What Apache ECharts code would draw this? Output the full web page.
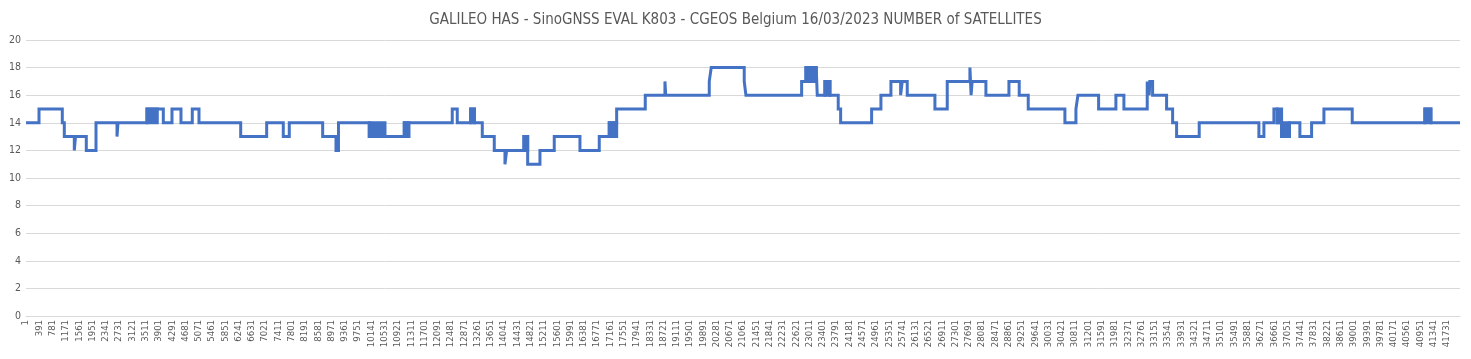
<!DOCTYPE html>
<html>
<head>
<meta charset="utf-8">
<script src="https://cdn.jsdelivr.net/npm/echarts@6/dist/echarts.min.js"></script>
<style>
html,body{margin:0;padding:0;background:#fff;}
#c{width:1471px;height:359px;}
</style>
</head>
<body>
<div id="c"></div>
<script>
// Number of epochs (category count) on the x axis
var totalEpochs = 42120;
// Epoch index where each constant-value run starts, and the satellite count of that run
var runStart = [
  0, 382, 1066, 1125, 1419, 1454, 1771, 2056, 2673, 2702,
  3554, 4033, 4288, 4552, 4884, 5081, 6306, 7069, 7557, 7733,
  8714, 9105, 9178, 10083, 10544, 11111, 11249, 12520, 12667,
  13061, 13170, 13402, 13754, 14068, 14118, 14626, 14735, 15096,
  15516, 16271, 16838, 17132, 17349, 18189, 18767, 18790,
  20069, 20127, 21096, 21146, 22782, 22909, 23210, 23241,
  23467, 23613, 23857, 23928, 24838, 25111, 25405,
  25690, 25737, 25884, 26697, 27059, 27725, 27760, 27790, 28195,
  28871, 29173, 29438, 30515, 30839, 30897, 31505, 32013, 32248,
  32933, 32990, 33010, 33091, 33502, 33679, 33796, 34460,
  36213, 36360, 36654, 36751, 36880, 37110,
  37417, 37761, 38123, 38954, 41089, 41265
];
var runValue = [
  14, 15, 14, 13, 12, 13, 12, 14, 13, 14,
  15, 14, 15, 14, 15, 14, 13, 14, 13, 14,
  13, 12, 14, 13, 13, 14, 14, 15, 14,
  15, 14, 13, 12, 11, 12, 13, 11, 12,
  13, 12, 13, 14, 15, 16, 17, 16,
  17, 18, 17, 16, 17, 18, 18, 16,
  17, 16, 15, 14, 15, 16, 17,
  16, 17, 16, 15, 17, 18, 16, 17, 16,
  17, 16, 15, 14, 15, 16, 15, 16, 15,
  17, 16, 17, 16, 15, 14, 13, 14,
  13, 14, 15, 14, 13, 14,
  13, 14, 15, 14, 15, 14
];
// Ranges where the count flickers so fast between two values that it shows as a solid block
var flickerStart = [3554, 10083, 11111, 13061, 14626, 17132, 22909, 23467, 36751, 36880, 41089];
var flickerEnd   = [3856, 10544, 11249, 13170, 14735, 17349, 23210, 23613, 36880, 37110, 41265];
var flickerLow   = [14, 13, 13, 14, 12, 13, 17, 16, 14, 13, 14];
var flickerHigh  = [15, 14, 14, 15, 13, 14, 18, 17, 15, 14, 15];

var yTicks = {min: 0, max: 20, step: 2};
var xLabelStep = 390;
var titleText = 'GALILEO HAS - SinoGNSS EVAL K803 - CGEOS Belgium 16/03/2023 NUMBER of SATELLITES';

var seriesData = runStart.map(function (s, i) { return [s, runValue[i]]; });
seriesData.push([totalEpochs, runValue[runValue.length - 1]]);

var blocks = flickerStart.map(function (s, i) {
  return [{coord: [s, flickerLow[i]]}, {coord: [flickerEnd[i], flickerHigh[i]]}];
});

var chart = echarts.init(document.getElementById('c'), null, {renderer: 'canvas'});
var font = "'Liberation Sans Narrow', 'Arial Narrow', 'DejaVu Sans Condensed', 'Liberation Sans', sans-serif";
chart.setOption({
  animation: false,
  backgroundColor: '#ffffff',
  title: {
    text: titleText,
    left: 'center',
    top: 8,
    textStyle: {fontFamily: font, fontSize: 15, fontWeight: 'normal', color: '#595959'}
  },
  grid: {left: 26, right: 11, top: 40, bottom: 43, containLabel: false},
  xAxis: {
    type: 'value',
    min: 0,
    max: totalEpochs,
    interval: xLabelStep,
    axisLine: {show: true, lineStyle: {color: '#d9d9d9', width: 1}},
    axisTick: {show: false},
    splitLine: {show: false},
    axisLabel: {
      rotate: 90,
      margin: 4,
      showMaxLabel: false,
      fontFamily: font,
      fontSize: 9.5,
      color: '#595959',
      formatter: function (v) { return String(v + 1); }
    }
  },
  yAxis: {
    type: 'value',
    min: yTicks.min,
    max: yTicks.max,
    interval: yTicks.step,
    axisLine: {show: false},
    axisTick: {show: false},
    splitLine: {lineStyle: {color: '#d9d9d9', width: 1}},
    axisLabel: {margin: 5, fontFamily: font, fontSize: 10.5, color: '#595959'}
  },
  series: [{
    type: 'line',
    data: seriesData,
    step: 'end',
    showSymbol: false,
    symbol: 'none',
    lineStyle: {color: '#4472C4', width: 3, join: 'miter'},
    itemStyle: {color: '#4472C4'},
    markArea: {
      silent: true,
      label: {show: false},
      itemStyle: {color: '#4472C4', opacity: 1, borderColor: '#4472C4', borderWidth: 3},
      data: blocks
    }
  }]
});
</script>
</body>
</html>
